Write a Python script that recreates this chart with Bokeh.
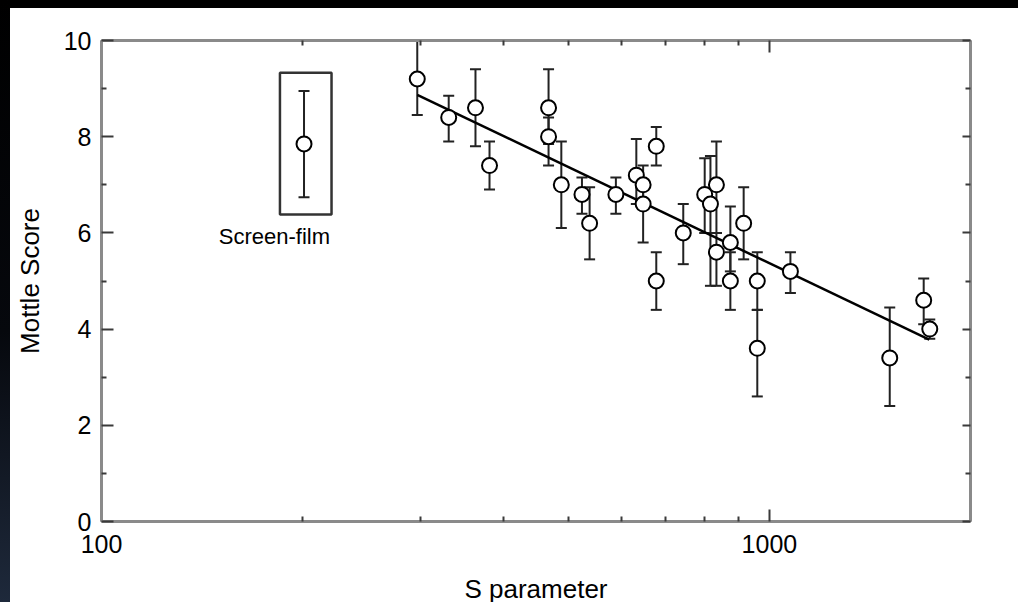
from bokeh.plotting import figure
from bokeh.models import (LogAxis, LinearAxis, FixedTicker, Range1d, Whisker,
                          ColumnDataSource, TeeHead, NumeralTickFormatter)
from bokeh.core.properties import value
from bokeh.embed import file_html
from bokeh.resources import INLINE

# ---------------- data ----------------
s_param = [297, 331, 363, 381, 467, 467, 488, 524, 538, 589, 632, 647, 647,
           677, 677, 743, 800, 816, 833, 833, 874, 874, 915, 959, 959, 1075,
           1514, 1702, 1738]
mottle = [9.2, 8.4, 8.6, 7.4, 8.6, 8.0, 7.0, 6.8, 6.2, 6.8, 7.2, 7.0, 6.6,
          7.8, 5.0, 6.0, 6.8, 6.6, 7.0, 5.6, 5.8, 5.0, 6.2, 5.0, 3.6, 5.2,
          3.4, 4.6, 4.0]
err_low = [8.45, 7.9, 7.8, 6.9, 7.85, 7.4, 6.1, 6.4, 5.45, 6.4, 6.6, 6.6, 5.8,
           7.4, 4.4, 5.35, 6.0, 4.9, 6.0, 4.9, 5.2, 4.4, 5.45, 4.4, 2.6, 4.75,
           2.4, 4.1, 3.8]
err_high = [10.0, 8.85, 9.4, 7.9, 9.4, 8.4, 7.9, 7.15, 6.95, 7.15, 7.95, 7.4, 7.0,
            8.2, 5.6, 6.6, 7.55, 7.6, 7.9, 6.0, 6.55, 5.6, 6.95, 5.6, 4.4, 5.6,
            4.45, 5.05, 4.2]

# screen-film reference point and its inset box
sf_s = [201]
sf_score = [7.85]
sf_low = [6.74]
sf_high = [8.95]
sf_box_left = [185]
sf_box_right = [221]
sf_box_bottom = [6.38]
sf_box_top = [9.33]
sf_label_s = [181.5]
sf_label_score = [5.92]
sf_label = ["Screen-film"]

# regression line end points
fit_s = [297, 1735]
fit_score = [8.87, 3.78]

# axes
x_ticks = [100, 1000]
x_minor = [200, 300, 400, 500, 600, 700, 800, 900, 2000]
y_ticks = [0, 2, 4, 6, 8, 10]
y_minor = [1, 3, 5, 7, 9]
x_title = "S parameter"
y_title = "Mottle Score"

FONT = "Liberation Sans"
AXIS_C = "#8a8a8a"
TICK_C = "#3a3a3a"
INK = "#222222"

p = figure(width=1018, height=610, x_axis_type="log",
           x_range=Range1d(100, 2000), y_range=Range1d(0, 10),
           output_backend="svg", toolbar_location=None,
           min_border_left=101, min_border_right=48,
           min_border_top=40, min_border_bottom=89)
p.background_fill_color = "white"
p.border_fill_color = "white"
p.outline_line_color = None
p.grid.visible = False

def style_axis(ax):
    ax.axis_line_color = AXIS_C
    ax.axis_line_width = 3
    ax.major_tick_line_color = TICK_C
    ax.minor_tick_line_color = TICK_C
    ax.major_tick_line_width = 2
    ax.minor_tick_line_width = 2
    ax.major_tick_in = 12
    ax.major_tick_out = 0
    ax.minor_tick_in = 5
    ax.minor_tick_out = 0
    ax.major_label_text_font = FONT
    ax.major_label_text_color = "black"
    ax.major_label_text_font_size = "25px"
    ax.axis_label_text_font = FONT
    ax.axis_label_text_font_style = "normal"
    ax.axis_label_text_color = "black"
    ax.axis_label_text_font_size = "26px"

xt = FixedTicker(ticks=x_ticks, minor_ticks=x_minor)
yt = FixedTicker(ticks=y_ticks, minor_ticks=y_minor)

xb = p.xaxis[0]
xb.ticker = xt
xb.formatter = NumeralTickFormatter(format="0")
style_axis(xb)
xb.major_label_standoff = 13
xb.axis_label = x_title
xb.axis_label_standoff = 18

yl = p.yaxis[0]
yl.ticker = yt
style_axis(yl)
yl.major_label_standoff = 10
yl.axis_label = y_title
yl.axis_label_standoff = 16

xtop = LogAxis(ticker=xt)
style_axis(xtop)
xtop.major_label_overrides = {t: "" for t in x_ticks}
xtop.major_label_standoff = 0
p.add_layout(xtop, "above")

yr = LinearAxis(ticker=yt)
style_axis(yr)
yr.major_label_overrides = {t: "" for t in y_ticks}
yr.major_label_standoff = 0
yr.major_tick_in = 8
p.add_layout(yr, "right")

# regression line
p.line(fit_s, fit_score, line_color="black", line_width=2.5)

# error bars
src = ColumnDataSource(dict(s=s_param, m=mottle, lo=err_low, hi=err_high))
def head():
    return TeeHead(size=11, line_color=INK, line_width=2)
p.add_layout(Whisker(source=src, base="s", lower="lo", upper="hi",
                     line_color=INK, line_width=2,
                     lower_head=head(), upper_head=head()))

sf_src = ColumnDataSource(dict(s=sf_s, m=sf_score, lo=sf_low, hi=sf_high))
p.add_layout(Whisker(source=sf_src, base="s", lower="lo", upper="hi",
                     line_color=INK, line_width=2,
                     lower_head=head(), upper_head=head()))

# screen-film box
p.quad(left=sf_box_left, right=sf_box_right, bottom=sf_box_bottom, top=sf_box_top,
       fill_color=None, line_color="#333333", line_width=2.5)

# markers
p.scatter(x="s", y="m", source=src, marker="circle", size=15,
          fill_color="white", line_color="black", line_width=2)
p.scatter(x="s", y="m", source=sf_src, marker="circle", size=15,
          fill_color="white", line_color="black", line_width=2)

p.text(x=sf_label_s, y=sf_label_score, text=sf_label,
       text_font=value(FONT), text_font_size="22px", text_color="black",
       text_align="center", text_baseline="middle")

html = file_html(p, INLINE)
css = ("<style>html,body{margin:0;padding:0;background:#fff;overflow:hidden}"
       "body::before{content:'';position:fixed;left:0;top:0;width:100%;height:8px;"
       "background:#000;z-index:1000}"
       "body::after{content:'';position:fixed;left:0;top:0;width:10px;height:100%;"
       "background:linear-gradient(to bottom,#000 0%,#06080d 55%,#1e293b 100%);z-index:1000}"
       "</style></head>")
html = html.replace("</head>", css, 1)
open("out.html", "w").write(html)
